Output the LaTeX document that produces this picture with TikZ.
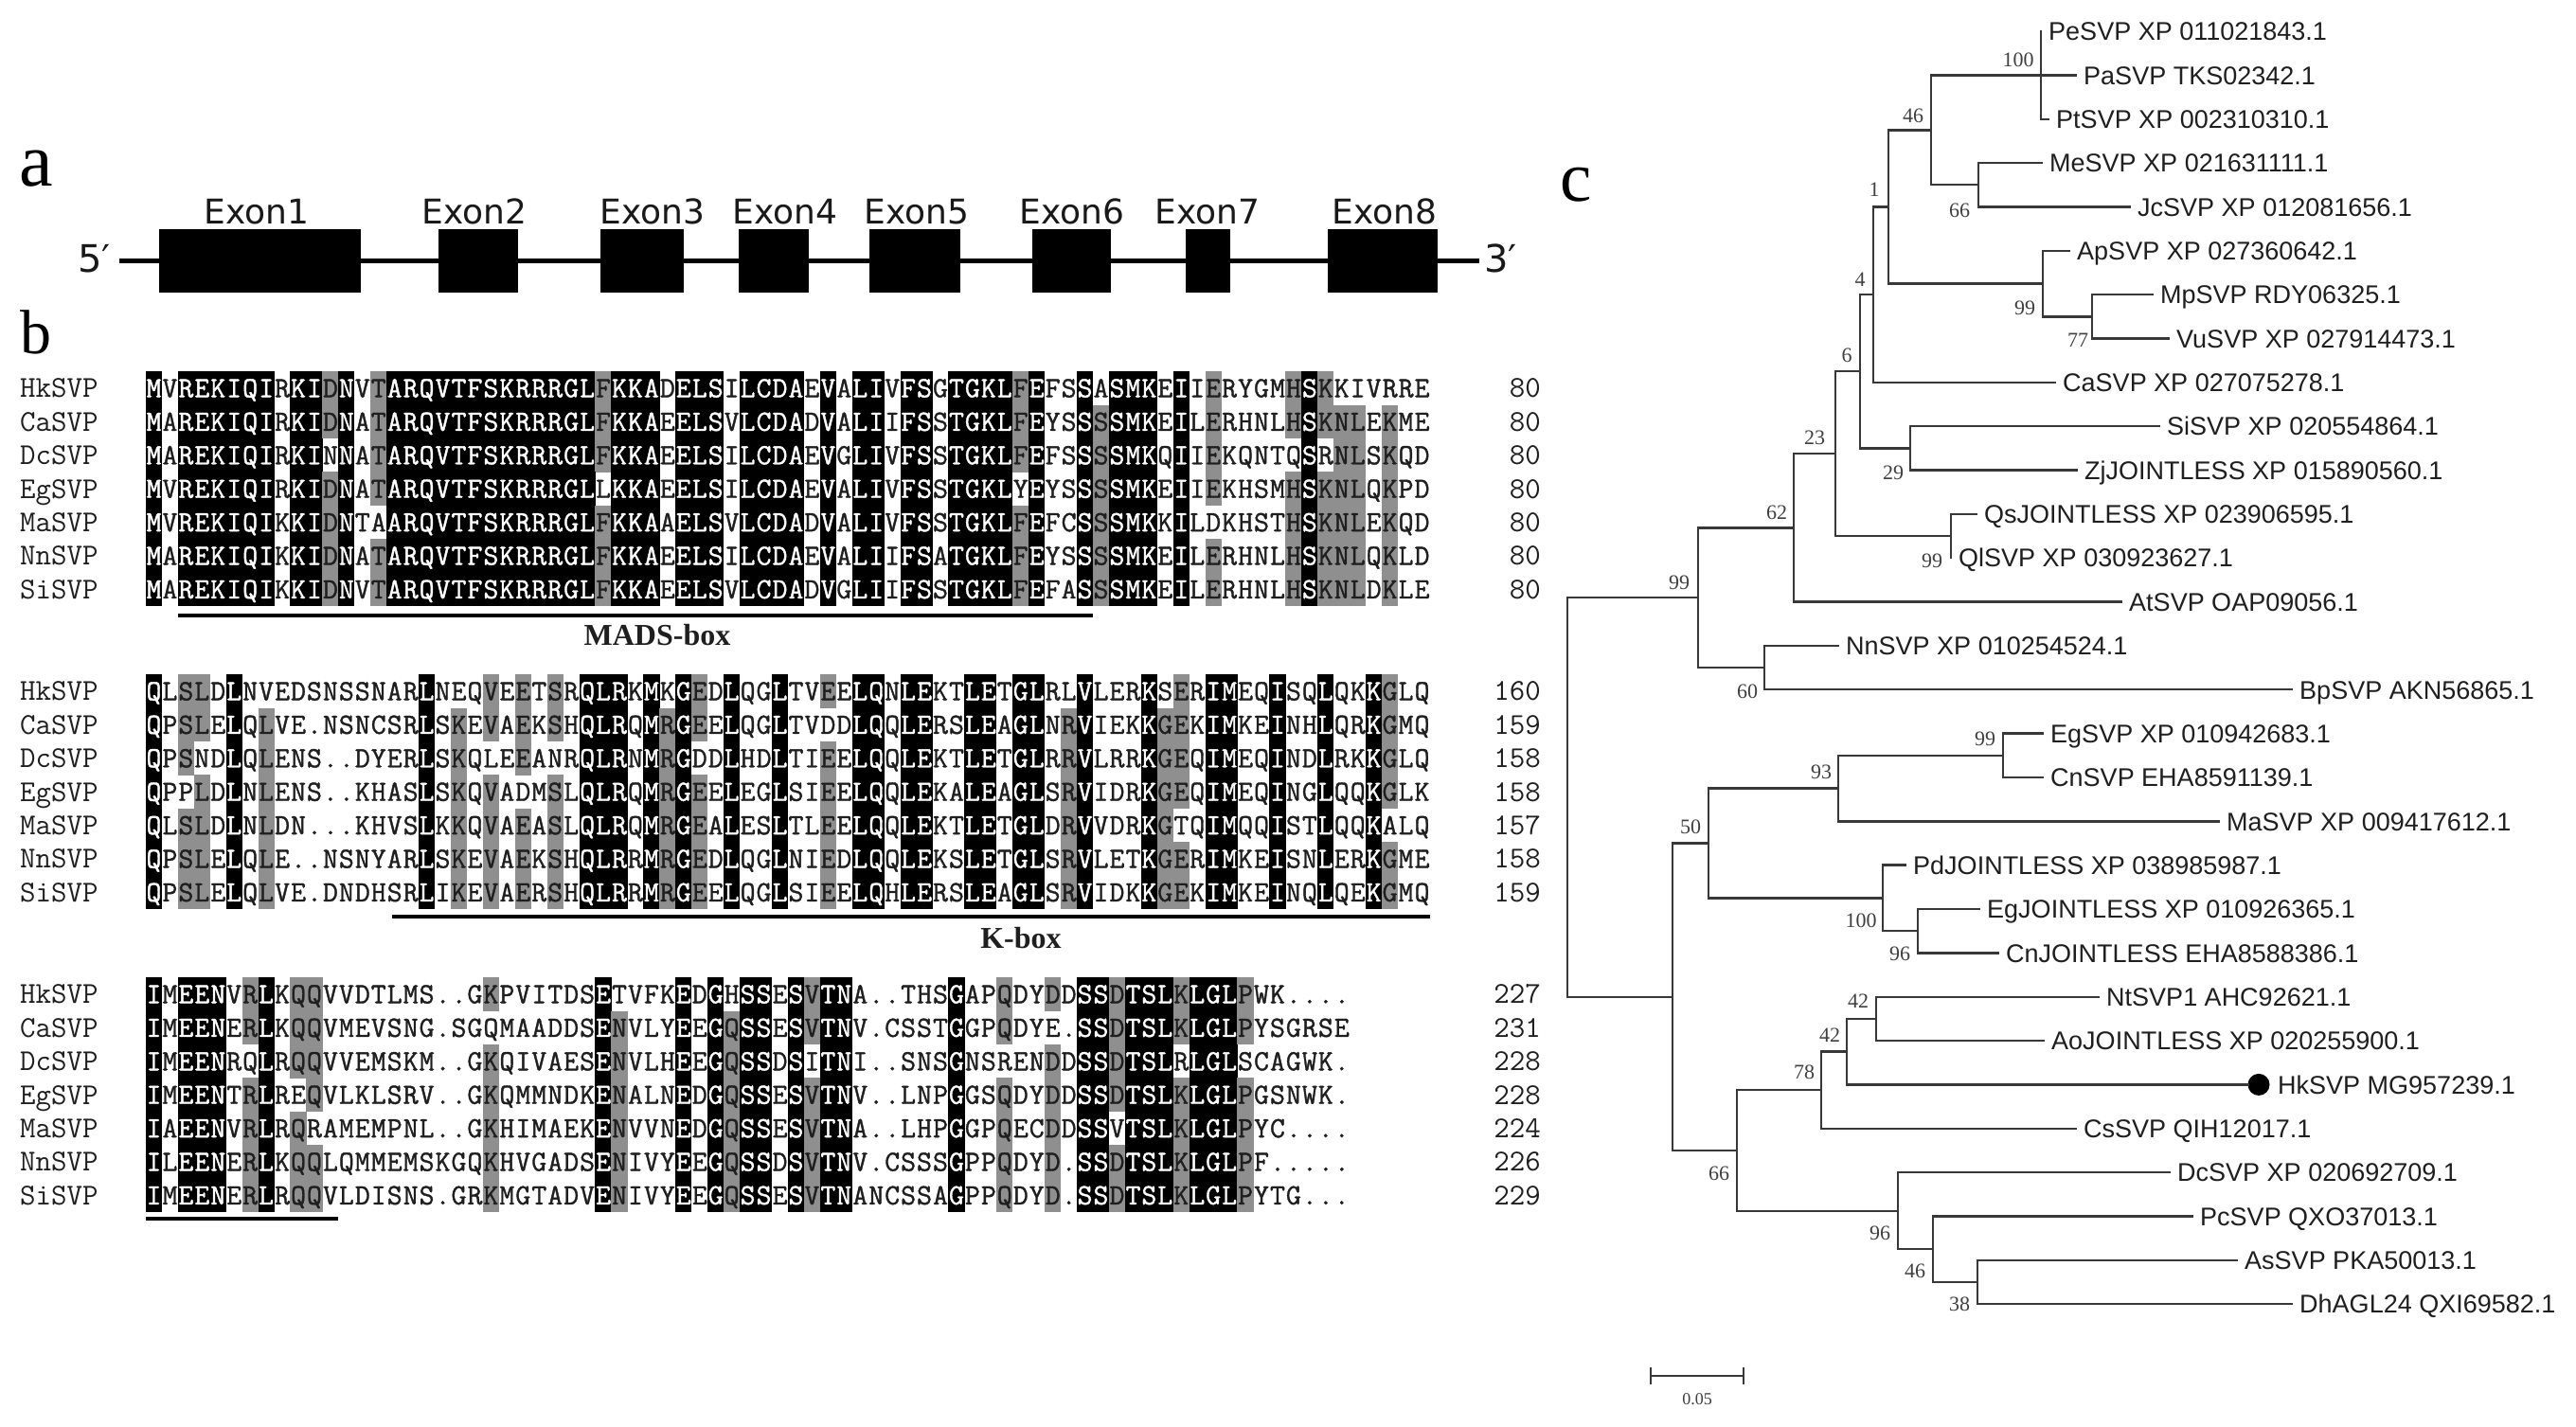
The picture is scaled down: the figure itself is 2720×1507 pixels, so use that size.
\documentclass[tikz,border=0pt]{standalone}
\usepackage{fontspec}
\setmainfont{Liberation Serif}
\newfontfamily\labsans{Liberation Sans}
\newfontfamily\exsans{DejaVu Sans}
\newfontfamily\alnfont[FakeBold=1.2]{Latin Modern Mono}
\definecolor{alngray}{gray}{0.56}
\definecolor{txtgray}{gray}{0.12}
\definecolor{treeline}{gray}{0.22}

\ExplSyntaxOn
\cs_generate_variant:Nn \str_item:Nn { c }
\int_new:N \l__aln_n_int
\int_new:N \l__aln_cnt_int
\tl_new:N \l__aln_ch_tl
\tl_new:N \l__aln_r_tl
\tl_new:N \l__aln_c_tl
\tl_new:N \l__aln_k_tl
\cs_new_protected:Npn \aln_set:nnn #1#2#3
  {
    \str_if_exist:cF { g__aln_#1_#2_str } { \str_new:c { g__aln_#1_#2_str } }
    \str_gset:cn { g__aln_#1_#2_str } {#3}
  }
\cs_new_protected:Npn \aln_block:nn #1#2
  {
    \int_set:Nn \l__aln_n_int { \str_count:c { g__aln_#1_1_str } }
    \int_step_variable:nnNn {1}{7} \l__aln_r_tl
      {
        \int_step_variable:nnNn {1} { \l__aln_n_int } \l__aln_c_tl
          {
            \tl_set:Nx \l__aln_ch_tl { \str_item:cn { g__aln_#1_ \l__aln_r_tl _str } { \l__aln_c_tl } }
            \int_zero:N \l__aln_cnt_int
            \int_step_variable:nnNn {1}{7} \l__aln_k_tl
              {
                \str_if_eq:eeTF { \str_item:cn { g__aln_#1_ \l__aln_k_tl _str } { \l__aln_c_tl } } { \l__aln_ch_tl }
                  { \int_incr:N \l__aln_cnt_int } { }
              }
            \str_if_eq:eeTF { \l__aln_ch_tl } { . } { \int_zero:N \l__aln_cnt_int } { }
            \use:x { \exp_not:N \AlnCell { \l__aln_c_tl } { \l__aln_r_tl } { #2 } { \l__aln_ch_tl } { \int_use:N \l__aln_cnt_int } }
          }
      }
  }
\cs_new_eq:NN \AlnSet \aln_set:nnn
\cs_new_eq:NN \AlnBlock \aln_block:nn
\ExplSyntaxOff

\newcommand\AlnCell[5]{%
  \pgfmathsetmacro\alnx{154+(#1-0.5)*16.95}%
  \pgfmathsetmacro\alny{#3+(#2-1)*35.4}%
  \ifnum#5=7\relax
    \fill[black] ({\alnx-8.6},{\alny-17.9}) rectangle ({\alnx+8.6},{\alny+17.9});%
    \node[alnchar,text=white] at ({\alnx},{\alny+9.5}) {#4};%
  \else
    \ifnum#5=6\relax
      \fill[alngray] ({\alnx-8.6},{\alny-17.9}) rectangle ({\alnx+8.6},{\alny+17.9});%
    \fi
    \node[alnchar] at ({\alnx},{\alny+9.5}) {#4};%
  \fi}

% block 1
\AlnSet{1}{1}{MVREKIQIRKIDNVTARQVTFSKRRRGLFKKADELSILCDAEVALIVFSGTGKLFEFSSASMKEIIERYGMHSKKIVRRE}
\AlnSet{1}{2}{MAREKIQIRKIDNATARQVTFSKRRRGLFKKAEELSVLCDADVALIIFSSTGKLFEYSSSSMKEILERHNLHSKNLEKME}
\AlnSet{1}{3}{MAREKIQIRKINNATARQVTFSKRRRGLFKKAEELSILCDAEVGLIVFSSTGKLFEFSSSSMKQIIEKQNTQSRNLSKQD}
\AlnSet{1}{4}{MVREKIQIRKIDNATARQVTFSKRRRGLLKKAEELSILCDAEVALIVFSSTGKLYEYSSSSMKEIIEKHSMHSKNLQKPD}
\AlnSet{1}{5}{MVREKIQIKKIDNTAARQVTFSKRRRGLFKKAAELSVLCDADVALIVFSSTGKLFEFCSSSMKKILDKHSTHSKNLEKQD}
\AlnSet{1}{6}{MAREKIQIKKIDNATARQVTFSKRRRGLFKKAEELSILCDAEVALIIFSATGKLFEYSSSSMKEILERHNLHSKNLQKLD}
\AlnSet{1}{7}{MAREKIQIKKIDNVTARQVTFSKRRRGLFKKAEELSVLCDADVGLIIFSSTGKLFEFASSSMKEILERHNLHSKNLDKLE}
% block 2
\AlnSet{2}{1}{QLSLDLNVEDSNSSNARLNEQVEETSRQLRKMKGEDLQGLTVEELQNLEKTLETGLRLVLERKSERIMEQISQLQKKGLQ}
\AlnSet{2}{2}{QPSLELQLVE.NSNCSRLSKEVAEKSHQLRQMRGEELQGLTVDDLQQLERSLEAGLNRVIEKKGEKIMKEINHLQRKGMQ}
\AlnSet{2}{3}{QPSNDLQLENS..DYERLSKQLEEANRQLRNMRGDDLHDLTIEELQQLEKTLETGLRRVLRRKGEQIMEQINDLRKKGLQ}
\AlnSet{2}{4}{QPPLDLNLENS..KHASLSKQVADMSLQLRQMRGEELEGLSIEELQQLEKALEAGLSRVIDRKGEQIMEQINGLQQKGLK}
\AlnSet{2}{5}{QLSLDLNLDN...KHVSLKKQVAEASLQLRQMRGEALESLTLEELQQLEKTLETGLDRVVDRKGTQIMQQISTLQQKALQ}
\AlnSet{2}{6}{QPSLELQLE..NSNYARLSKEVAEKSHQLRRMRGEDLQGLNIEDLQQLEKSLETGLSRVLETKGERIMKEISNLERKGME}
\AlnSet{2}{7}{QPSLELQLVE.DNDHSRLIKEVAERSHQLRRMRGEELQGLSIEELQHLERSLEAGLSRVIDKKGEKIMKEINQLQEKGMQ}
% block 3
\AlnSet{3}{1}{IMEENVRLKQQVVDTLMS..GKPVITDSETVFKEDGHSSESVTNA..THSGAPQDYDDSSDTSLKLGLPWK....}
\AlnSet{3}{2}{IMEENERLKQQVMEVSNG.SGQMAADDSENVLYEEGQSSESVTNV.CSSTGGPQDYE.SSDTSLKLGLPYSGRSE}
\AlnSet{3}{3}{IMEENRQLRQQVVEMSKM..GKQIVAESENVLHEEGQSSDSITNI..SNSGNSRENDDSSDTSLRLGLSCAGWK.}
\AlnSet{3}{4}{IMEENTRLREQVLKLSRV..GKQMMNDKENALNEDGQSSESVTNV..LNPGGSQDYDDSSDTSLKLGLPGSNWK.}
\AlnSet{3}{5}{IAEENVRLRQRAMEMPNL..GKHIMAEKENVVNEDGQSSESVTNA..LHPGGPQECDDSSVTSLKLGLPYC....}
\AlnSet{3}{6}{ILEENERLKQQLQMMEMSKGQKHVGADSENIVYEEGQSSDSVTNV.CSSSGPPQDYD.SSDTSLKLGLPF.....}
\AlnSet{3}{7}{IMEENERLRQQVLDISNS.GRKMGTADVENIVYEEGQSSESVTNANCSSAGPPQDYD.SSDTSLKLGLPYTG...}

\tikzset{
  alnchar/.style={font=\alnfont\fontsize{31}{31}\selectfont, inner sep=0pt, anchor=base, text=txtgray},
  alnname/.style={font=\ttfamily\fontsize{32}{32}\selectfont, inner sep=0pt, anchor=base west, text=txtgray},
  alnnum/.style={font=\ttfamily\fontsize{32}{32}\selectfont, inner sep=0pt, anchor=base east, text=txtgray},
  domlab/.style={font=\bfseries\fontsize{32}{32}\selectfont, inner sep=0pt, anchor=base, text=txtgray},
  domline/.style={line width=4pt, black},
  panlab/.style={inner sep=0pt, anchor=base west, text=black},
  exlab/.style={font=\exsans\fontsize{36}{36}\selectfont, inner sep=0pt, anchor=base, text=black!90},
  endlab/.style={font=\exsans\fontsize{40}{40}\selectfont, inner sep=0pt, anchor=base west, text=black!90},
  leaf/.style={font=\labsans\fontsize{27}{27}\selectfont, anchor=west, inner xsep=8pt, inner ysep=0pt, text height=19.5pt, text depth=0pt, text=black!88},
  boot/.style={font=\fontsize{22}{22}\selectfont, inner sep=0pt, anchor=center, text=black!75},
  br/.style={line width=2.4pt, treeline, line cap=rect},
}

\begin{document}
\begin{tikzpicture}[x=1pt,y=-1pt]
\useasboundingbox (0,0) rectangle (2720,1507);
\fill[white] (0,0) rectangle (2720,1507);

% ---------- panel a ----------
\node[panlab, font=\fontsize{80}{80}\selectfont] (labA) at (20,196) {a};
\coordinate (g5) at (126,275);
\coordinate (g3) at (1562,275);
\draw[line width=5pt, black] (g5) -- (g3);
\node[endlab] (p5) at (82,287) {5′};
\node[endlab] (p3) at (1567,287) {3′};
\foreach \nm/\xa/\xb/\lx in {Exon1/168/381/271, Exon2/463/547/501, Exon3/634/722/689, Exon4/780/854/829, Exon5/918/1014/968, Exon6/1090/1173/1132, Exon7/1252/1299/1275, Exon8/1402/1518/1462}{
  \fill[black] (\xa,242) rectangle (\xb,309);
  \node[exlab] (lab\nm) at (\lx,236) {\nm};
}

% ---------- panel b ----------
\node[panlab, font=\fontsize{66}{66}\selectfont] (labB) at (21,373) {b};
\AlnBlock{1}{410}
\AlnBlock{2}{730}
\AlnBlock{3}{1050}
\foreach \r/\nm/\na/\nb/\nc in {1/HkSVP/80/160/227, 2/CaSVP/80/159/231, 3/DcSVP/80/158/228, 4/EgSVP/80/158/228, 5/MaSVP/80/157/224, 6/NnSVP/80/158/226, 7/SiSVP/80/159/229}{
  \node[alnname] (na\r) at (21,{410+(\r-1)*35.4+9.8}) {\nm};
  \node[alnname] (nb\r) at (21,{730+(\r-1)*35.4+9.8}) {\nm};
  \node[alnname] (nc\r) at (21,{1050+(\r-1)*35.4+9.8}) {\nm};
  \node[alnnum] (ca\r) at (1627,{410+(\r-1)*35.4+9.8}) {\na};
  \node[alnnum] (cb\r) at (1627,{730+(\r-1)*35.4+9.8}) {\nb};
  \node[alnnum] (cc\r) at (1627,{1050+(\r-1)*35.4+9.8}) {\nc};
}
\coordinate (mads1) at (188,650); \coordinate (mads2) at (1154,650);
\draw[domline] (mads1) -- (mads2);
\node[domlab] (madslab) at (694,681) {MADS-box};
\coordinate (kbox1) at (414,968); \coordinate (kbox2) at (1510,968);
\draw[domline] (kbox1) -- (kbox2);
\node[domlab] (kboxlab) at (1078,1001) {K-box};
\coordinate (kb3a) at (154,1287); \coordinate (kb3b) at (357,1287);
\draw[domline] (kb3a) -- (kb3b);

% ---------- panel c ----------
\node[panlab, font=\fontsize{75}{75}\selectfont] (labC) at (1647,212) {c};

% internal nodes
\coordinate (nA) at (2155,79.35);
\coordinate (nMJ) at (2089,195.2);
\coordinate (nB) at (2039,137.3);
\coordinate (nMV) at (2209,334.3);
\coordinate (nAMV) at (2157,299.5);
\coordinate (nC) at (1994,218.4);
\coordinate (nD) at (1978,311.1);
\coordinate (nSZ) at (2017,473.3);
\coordinate (nE) at (1964,392.2);
\coordinate (nQQ) at (2060,566.0);
\coordinate (nF) at (1938,479.1);
\coordinate (nG) at (1894,557.3);
\coordinate (nNB) at (1863,705.1);
\coordinate (nH) at (1793,631.2);
\coordinate (nEC) at (2115,797.8);
\coordinate (nI) at (1941,832.55);
\coordinate (nEjCj) at (2025,983.2);
\coordinate (nJ) at (1988,948.4);
\coordinate (nK) at (1804,890.5);
\coordinate (nNA) at (1981,1075.9);
\coordinate (nN) at (1950,1110.6);
\coordinate (nO) at (1923,1151.2);
\coordinate (nAD) at (2088,1354.0);
\coordinate (nQ) at (2041,1319.2);
\coordinate (nP) at (2004,1278.7);
\coordinate (nM) at (1834,1215.0);
\coordinate (nL) at (1766,1052.7);
\coordinate (nR) at (1655,842);

% leaves
\node[leaf] (lPe) at (2155,33) {PeSVP XP 011021843.1};
\node[leaf] (lPa) at (2192,79.35) {PaSVP TKS02342.1};
\node[leaf] (lPt) at (2163,125.7) {PtSVP XP 002310310.1};
\node[leaf] (lMe) at (2156,172.05) {MeSVP XP 021631111.1};
\node[leaf] (lJc) at (2249,218.4) {JcSVP XP 012081656.1};
\node[leaf] (lAp) at (2185,264.75) {ApSVP XP 027360642.1};
\node[leaf] (lMp) at (2273,311.1) {MpSVP RDY06325.1};
\node[leaf] (lVu) at (2290,357.45) {VuSVP XP 027914473.1};
\node[leaf] (lCa) at (2170,403.8) {CaSVP XP 027075278.1};
\node[leaf] (lSi) at (2280,450.15) {SiSVP XP 020554864.1};
\node[leaf] (lZj) at (2193,496.5) {ZjJOINTLESS XP 015890560.1};
\node[leaf] (lQs) at (2087,542.85) {QsJOINTLESS XP 023906595.1};
\node[leaf] (lQl) at (2060,589.2) {QlSVP XP 030923627.1};
\node[leaf] (lAt) at (2240,635.55) {AtSVP OAP09056.1};
\node[leaf] (lNn) at (1941,681.9) {NnSVP XP 010254524.1};
\node[leaf] (lBp) at (2420,728.25) {BpSVP AKN56865.1};
\node[leaf] (lEg) at (2157,774.6) {EgSVP XP 010942683.1};
\node[leaf] (lCn) at (2157,820.95) {CnSVP EHA8591139.1};
\node[leaf] (lMa) at (2343,867.3) {MaSVP XP 009417612.1};
\node[leaf] (lPd) at (2012,913.65) {PdJOINTLESS XP 038985987.1};
\node[leaf] (lEgj) at (2090,960.0) {EgJOINTLESS XP 010926365.1};
\node[leaf] (lCnj) at (2110,1006.35) {CnJOINTLESS EHA8588386.1};
\node[leaf] (lNt) at (2216,1052.7) {NtSVP1 AHC92621.1};
\node[leaf] (lAo) at (2158,1099.05) {AoJOINTLESS XP 020255900.1};
\node[circle, fill=black, inner sep=0pt, minimum size=23pt] (hkdot) at (2385,1145.4) {};
\node[leaf] (lHk) at (2397,1145.4) {HkSVP MG957239.1};
\node[leaf] (lCs) at (2192,1191.75) {CsSVP QIH12017.1};
\node[leaf] (lDc) at (2291,1238.1) {DcSVP XP 020692709.1};
\node[leaf] (lPc) at (2315,1284.45) {PcSVP QXO37013.1};
\node[leaf] (lAs) at (2362,1330.8) {AsSVP PKA50013.1};
\node[leaf] (lDh) at (2420,1377.15) {DhAGL24 QXI69582.1};

% branches
\draw[br] (nA) |- (lPe.west);
\draw[br] (nA) |- (lPa.west);
\draw[br] (nA) |- (lPt.west);
\draw[br] (nMJ) |- (lMe.west);
\draw[br] (nMJ) |- (lJc.west);
\draw[br] (nB) |- (nA);
\draw[br] (nB) |- (nMJ);
\draw[br] (nMV) |- (lMp.west);
\draw[br] (nMV) |- (lVu.west);
\draw[br] (nAMV) |- (lAp.west);
\draw[br] (nAMV) |- (nMV);
\draw[br] (nC) |- (nB);
\draw[br] (nC) |- (nAMV);
\draw[br] (nD) |- (nC);
\draw[br] (nD) |- (lCa.west);
\draw[br] (nSZ) |- (lSi.west);
\draw[br] (nSZ) |- (lZj.west);
\draw[br] (nE) |- (nD);
\draw[br] (nE) |- (nSZ);
\draw[br] (nQQ) |- (lQs.west);
\draw[br] (nQQ) |- (lQl.west);
\draw[br] (nF) |- (nE);
\draw[br] (nF) |- (nQQ);
\draw[br] (nG) |- (nF);
\draw[br] (nG) |- (lAt.west);
\draw[br] (nNB) |- (lNn.west);
\draw[br] (nNB) |- (lBp.west);
\draw[br] (nH) |- (nG);
\draw[br] (nH) |- (nNB);
\draw[br] (nEC) |- (lEg.west);
\draw[br] (nEC) |- (lCn.west);
\draw[br] (nI) |- (nEC);
\draw[br] (nI) |- (lMa.west);
\draw[br] (nEjCj) |- (lEgj.west);
\draw[br] (nEjCj) |- (lCnj.west);
\draw[br] (nJ) |- (lPd.west);
\draw[br] (nJ) |- (nEjCj);
\draw[br] (nK) |- (nI);
\draw[br] (nK) |- (nJ);
\draw[br] (nNA) |- (lNt.west);
\draw[br] (nNA) |- (lAo.west);
\draw[br] (nN) |- (nNA);
\draw[br] (nN) |- (hkdot.west);
\draw[br] (nO) |- (nN);
\draw[br] (nO) |- (lCs.west);
\draw[br] (nAD) |- (lAs.west);
\draw[br] (nAD) |- (lDh.west);
\draw[br] (nQ) |- (lPc.west);
\draw[br] (nQ) |- (nAD);
\draw[br] (nP) |- (lDc.west);
\draw[br] (nP) |- (nQ);
\draw[br] (nM) |- (nO);
\draw[br] (nM) |- (nP);
\draw[br] (nL) |- (nK);
\draw[br] (nL) |- (nM);
\draw[br] (nR) |- (nH);
\draw[br] (nR) |- (nL);

% bootstrap values
\node[boot] (bA) at (2131,63) {100};
\node[boot] (bB) at (2020,122) {46};
\node[boot] (bMJ) at (2069,222) {66};
\node[boot] (bC) at (1979,200) {1};
\node[boot] (bAMV) at (2138,325) {99};
\node[boot] (bMV) at (2194,359) {77};
\node[boot] (bD) at (1964,295) {4};
\node[boot] (bE) at (1950,375) {6};
\node[boot] (bSZ) at (1999,499) {29};
\node[boot] (bF) at (1916,462) {23};
\node[boot] (bQQ) at (2040,592) {99};
\node[boot] (bG) at (1876,541) {62};
\node[boot] (bNB) at (1845,730) {60};
\node[boot] (bH) at (1773,615) {99};
\node[boot] (bEC) at (2096,780) {99};
\node[boot] (bI) at (1923,815) {93};
\node[boot] (bEjCj) at (2006,1007) {96};
\node[boot] (bJ) at (1965,972) {100};
\node[boot] (bK) at (1785,873) {50};
\node[boot] (bNA) at (1962,1057) {42};
\node[boot] (bN) at (1932,1093) {42};
\node[boot] (bO) at (1905,1132) {78};
\node[boot] (bM) at (1815,1239) {66};
\node[boot] (bP) at (1985,1302) {96};
\node[boot] (bQ) at (2022,1342) {46};
\node[boot] (bAD) at (2069,1377) {38};

% scale bar
\coordinate (sb1) at (1743,1453);
\coordinate (sb2) at (1841,1453);
\draw[line width=2pt, treeline] (sb1) -- (sb2);
\draw[line width=2pt, treeline] (1743,1444) -- (1743,1462);
\draw[line width=2pt, treeline] (1841,1444) -- (1841,1462);
\node[boot, font=\fontsize{18}{18}\selectfont] (sblab) at (1792,1478) {0.05};
\end{tikzpicture}
\end{document}
